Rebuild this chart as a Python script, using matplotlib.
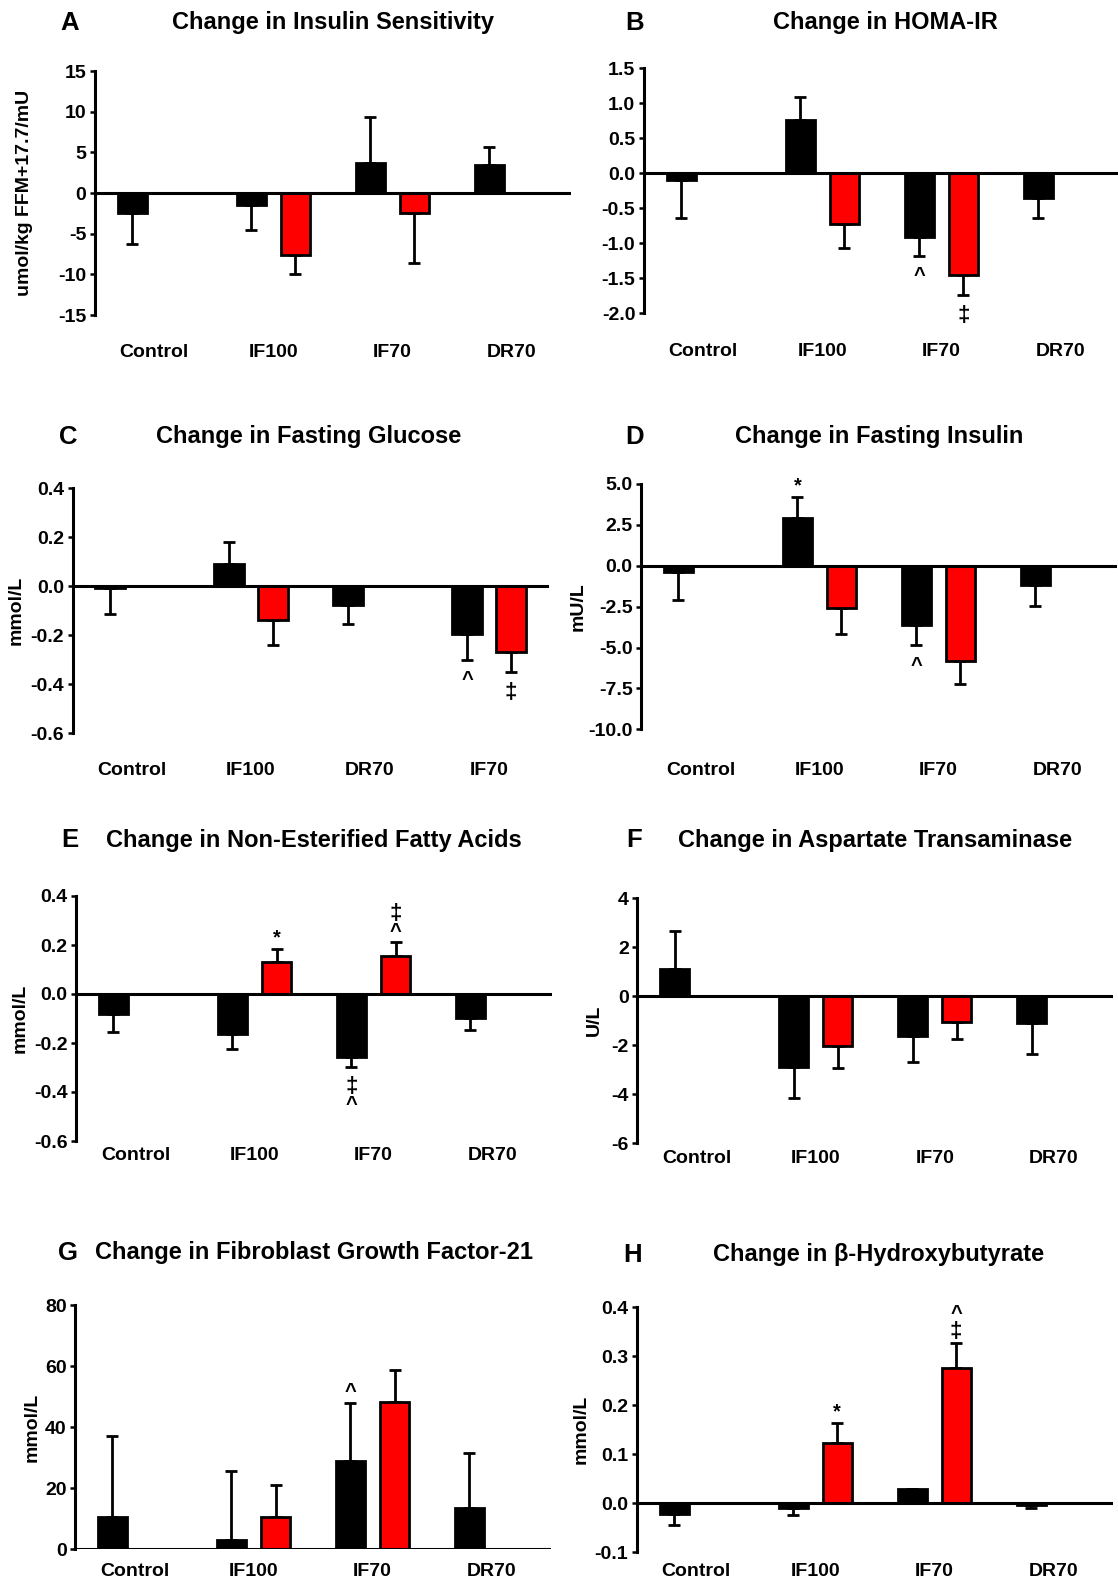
import numpy as np
import matplotlib
matplotlib.use("Agg")
import matplotlib.pyplot as plt
from matplotlib.ticker import FormatStrFormatter

plt.rcParams['font.family'] = ['Liberation Sans', 'DejaVu Sans']
plt.rcParams['font.weight'] = 'bold'
plt.rcParams['axes.unicode_minus'] = False

W, H = 1118, 1584
OFF = 0.185     # half distance between black and red bar
BW = 0.245      # bar width
AX_W = 476      # axes width in px (4 groups)

groups = ['Control', 'IF100', 'IF70', 'DR70']
groups_c = ['Control', 'IF100', 'DR70', 'IF70']
nan = np.nan

# A - insulin sensitivity
a_black = [-2.4, -1.5, 3.7, 3.4]
a_black_err = [3.9, 3.0, 5.6, 2.3]
a_red = [nan, -7.6, -2.5, nan]
a_red_err = [nan, 2.4, 6.1, nan]

# B - HOMA-IR
b_black = [-0.10, 0.76, -0.91, -0.36]
b_black_err = [0.54, 0.33, 0.27, 0.28]
b_red = [nan, -0.72, -1.45, nan]
b_red_err = [nan, 0.35, 0.29, nan]

# C - fasting glucose (order Control, IF100, DR70, IF70)
c_black = [-0.005, 0.092, -0.075, -0.193]
c_black_err = [0.11, 0.09, 0.078, 0.107]
c_red = [nan, -0.139, nan, -0.27]
c_red_err = [nan, 0.10, nan, 0.08]

# D - fasting insulin
d_black = [-0.37, 2.9, -3.6, -1.2]
d_black_err = [1.73, 1.3, 1.25, 1.25]
d_red = [nan, -2.6, -5.85, nan]
d_red_err = [nan, 1.6, 1.35, nan]

# E - NEFA
e_black = [-0.082, -0.165, -0.258, -0.099]
e_black_err = [0.072, 0.061, 0.039, 0.048]
e_red = [nan, 0.129, 0.155, nan]
e_red_err = [nan, 0.053, 0.056, nan]

# F - AST
f_black = [1.13, -2.89, -1.62, -1.07]
f_black_err = [1.54, 1.25, 1.06, 1.30]
f_red = [nan, -2.01, -1.05, nan]
f_red_err = [nan, 0.92, 0.69, nan]

# G - FGF-21
g_black = [10.7, 3.0, 29.0, 13.6]
g_black_err = [26.5, 22.5, 18.9, 17.9]
g_red = [nan, 10.7, 48.1, nan]
g_red_err = [nan, 10.2, 10.7, nan]

# H - beta-hydroxybutyrate
h_black = [-0.022, -0.010, 0.029, -0.004]
h_black_err = [0.022, 0.014, 0.0, 0.006]
h_red = [nan, 0.124, 0.276, nan]
h_red_err = [nan, 0.039, 0.052, nan]

# significance marks: (group, series, symbols from bar outward)
a_notes = []
b_notes = [(2, 'black', '^'), (2, 'red', '‡')]
c_notes = [(3, 'black', '^'), (3, 'red', '‡')]
d_notes = [(1, 'black', '*'), (2, 'black', '^')]
e_notes = [(1, 'red', '*'), (2, 'red', '^‡'), (2, 'black', '‡^')]
f_notes = []
g_notes = [(2, 'black', '^')]
h_notes = [(1, 'red', '*'), (2, 'red', '‡^')]

panels = [
    dict(letter='A', title='Change in Insulin Sensitivity', cats=groups,
         black=a_black, black_err=a_black_err, red=a_red, red_err=a_red_err,
         ticks=np.arange(-15, 16, 5), fmt='%d', ylabel='umol/kg FFM+17.7/mU', notes=a_notes,
         rect=(94.6, 71, 315), ylab_x=25, title_xy=(333, 23), letter_xy=(70, 23), gap=40),
    dict(letter='B', title='Change in HOMA-IR', cats=groups,
         black=b_black, black_err=b_black_err, red=b_red, red_err=b_red_err,
         ticks=np.arange(-2.0, 1.51, 0.5), fmt='%.1f', ylabel=None, notes=b_notes,
         rect=(643.7, 68.3, 313.3), ylab_x=None, title_xy=(885, 23), letter_xy=(635, 23), gap=40),
    dict(letter='C', title='Change in Fasting Glucose', cats=groups_c,
         black=c_black, black_err=c_black_err, red=c_red, red_err=c_red_err,
         ticks=np.arange(-0.6, 0.41, 0.2), fmt='%.1f', ylabel='mmol/L', notes=c_notes,
         rect=(72.5, 488.3, 733.3), ylab_x=16, title_xy=(309, 437), letter_xy=(68, 437), gap=39),
    dict(letter='D', title='Change in Fasting Insulin', cats=groups,
         black=d_black, black_err=d_black_err, red=d_red, red_err=d_red_err,
         ticks=np.arange(-10, 5.1, 2.5), fmt='%.1f', ylabel='mU/L', notes=d_notes,
         rect=(640.9, 484, 729.3), ylab_x=578, title_xy=(879, 437), letter_xy=(635, 437), gap=43),
    dict(letter='E', title='Change in Non-Esterified Fatty Acids', cats=groups,
         black=e_black, black_err=e_black_err, red=e_red, red_err=e_red_err,
         ticks=np.arange(-0.6, 0.41, 0.2), fmt='%.1f', ylabel='mmol/L', notes=e_notes,
         rect=(76, 896, 1141), ylab_x=20, title_xy=(314, 840), letter_xy=(70, 840), gap=17),
    dict(letter='F', title='Change in Aspartate Transaminase', cats=groups,
         black=f_black, black_err=f_black_err, red=f_red, red_err=f_red_err,
         ticks=np.arange(-6, 4.1, 2), fmt='%d', ylabel='U/L', notes=f_notes,
         rect=(637.3, 898.3, 1143.3), ylab_x=594, title_xy=(875, 840), letter_xy=(634, 840), gap=17),
    dict(letter='G', title='Change in Fibroblast Growth Factor-21', cats=groups,
         black=g_black, black_err=g_black_err, red=g_red, red_err=g_red_err,
         ticks=np.arange(0, 81, 20), fmt='%d', ylabel='mmol/L', notes=g_notes,
         rect=(75, 1305, 1549.3), ylab_x=32, title_xy=(314, 1253), letter_xy=(68, 1253), gap=24),
    dict(letter='H', title='Change in β-Hydroxybutyrate', cats=groups,
         black=h_black, black_err=h_black_err, red=h_red, red_err=h_red_err,
         ticks=np.arange(-0.1, 0.41, 0.1), fmt='%.1f', ylabel='mmol/L', notes=h_notes,
         rect=(636.6, 1307.3, 1552.3), ylab_x=581, title_xy=(879, 1255), letter_xy=(633, 1255), gap=21),
]


def draw_panel(fig, p):
    l, t, b = p['rect']
    ax = fig.add_axes([l / W, 1 - b / H, AX_W / W, (b - t) / H])
    x = np.arange(len(p['cats']))
    ends = {}
    for key, off, col in [('black', -OFF, 'black'), ('red', OFF, 'red')]:
        vals = np.asarray(p[key], float)
        errs = np.asarray(p[key + '_err'], float)
        ok = np.isfinite(vals)
        xs, v, e = x[ok] + off, vals[ok], errs[ok]
        lo = np.where(v < 0, e, 0)
        hi = np.where(v >= 0, e, 0)
        ax.errorbar(xs, v, yerr=[lo, hi], fmt='none', ecolor='black',
                    elinewidth=2.0, capsize=4.5, capthick=2.0, zorder=1)
        ax.bar(xs, v, width=BW, color=col, edgecolor='black', linewidth=2.0, zorder=2)
        for xi, vi, ei, gi in zip(xs, v, e, x[ok]):
            ends[(gi, key)] = (xi, vi + ei if vi >= 0 else vi - ei, 1 if vi >= 0 else -1)
    ax.axhline(0, color='black', lw=2.2, zorder=3)

    for g, key, syms in p['notes']:
        xi, yend, sgn = ends[(g, key)]
        d0 = 8 if sgn > 0 else 14.4
        for k, s in enumerate(syms):
            ax.annotate(s, (xi, yend), xytext=(0, sgn * (d0 + 13 * k)), textcoords='offset points',
                        ha='center', va='center', fontsize=16 if s == '‡' else 14.5,
                        fontweight='bold', zorder=4)

    ax.set_xlim(-0.5, 3.5)
    ax.set_ylim(p['ticks'][0], p['ticks'][-1])
    ax.set_yticks(p['ticks'])
    ax.yaxis.set_major_formatter(FormatStrFormatter(p['fmt']))
    ax.set_xticks(x, p['cats'])
    ax.tick_params(axis='x', length=0, pad=(p['gap'] - 10.6) * 0.72, labelsize=14)
    ax.tick_params(axis='y', length=3.5, width=1.8, pad=2.5, labelsize=14)
    for s in ['top', 'right', 'bottom']:
        ax.spines[s].set_visible(False)
    ax.spines['left'].set_linewidth(2.2)
    ax.patch.set_alpha(0)

    tx, ty = p['title_xy']
    fig.text(tx / W, 1 - ty / H, p['title'], ha='center', va='center', fontsize=17, fontweight='bold')
    lx, ly = p['letter_xy']
    fig.text(lx / W, 1 - ly / H, p['letter'], ha='center', va='center', fontsize=18.5, fontweight='bold')
    if p['ylabel']:
        fig.text(p['ylab_x'] / W, 1 - (t + b) / 2 / H, p['ylabel'], rotation=90,
                 ha='center', va='center', fontsize=14, fontweight='bold')
    return ax


fig = plt.figure(figsize=(W / 100, H / 100), dpi=100)
for p in panels:
    draw_panel(fig, p)
fig.savefig('out.png', dpi=100)
